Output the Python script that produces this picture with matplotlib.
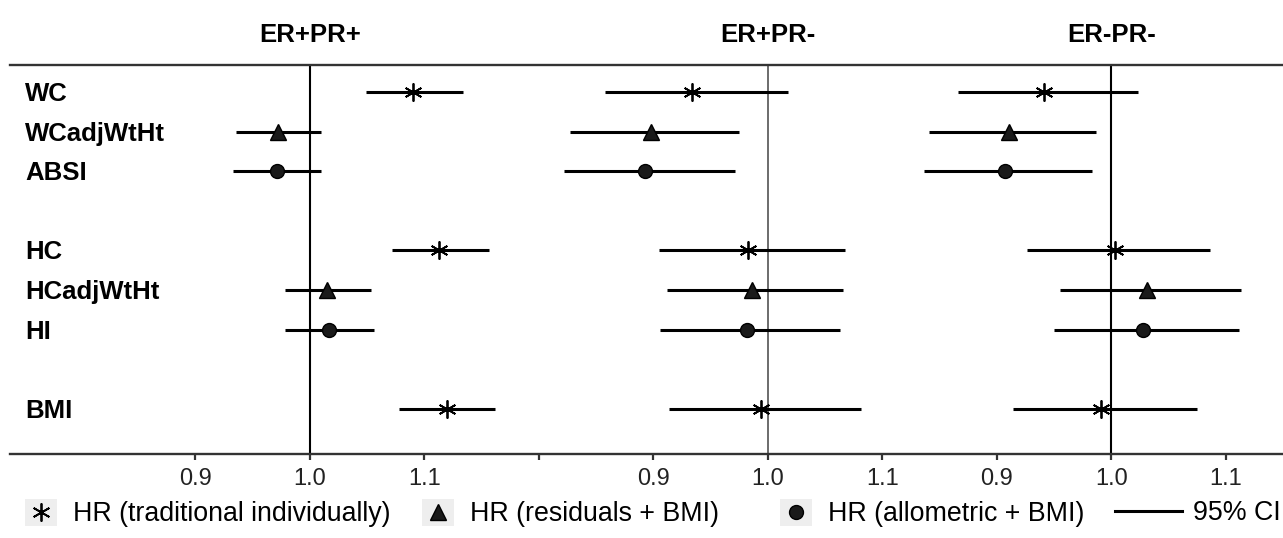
import matplotlib
matplotlib.use("Agg")
import matplotlib.pyplot as plt
import matplotlib.transforms as mtransforms
from matplotlib.lines import Line2D
from matplotlib.patches import Rectangle
from matplotlib.legend_handler import HandlerBase

plt.rcParams["font.family"] = ["Liberation Sans", "DejaVu Sans"]

# ---- data (hazard ratios) ----
subtypes = ["ER+PR+", "ER+PR-", "ER-PR-"]
measures = ["WC", "WCadjWtHt", "ABSI", "HC", "HCadjWtHt", "HI", "BMI"]
group_sizes = [3, 3, 1]
methods = ["traditional", "residuals", "allometric",
           "traditional", "residuals", "allometric", "traditional"]

hr_erpos_prpos = [1.090, 0.972, 0.971, 1.113, 1.015, 1.017, 1.120]
lo_erpos_prpos = [1.049, 0.935, 0.933, 1.072, 0.978, 0.978, 1.078]
hi_erpos_prpos = [1.134, 1.010, 1.010, 1.156, 1.053, 1.056, 1.162]

hr_erpos_prneg = [0.934, 0.898, 0.893, 0.983, 0.986, 0.982, 0.994]
lo_erpos_prneg = [0.858, 0.827, 0.822, 0.905, 0.912, 0.906, 0.914]
hi_erpos_prneg = [1.018, 0.975, 0.971, 1.067, 1.066, 1.063, 1.081]

hr_erneg_prneg = [0.941, 0.911, 0.907, 1.003, 1.031, 1.028, 0.991]
lo_erneg_prneg = [0.866, 0.841, 0.836, 0.926, 0.955, 0.950, 0.914]
hi_erneg_prneg = [1.023, 0.987, 0.983, 1.086, 1.113, 1.112, 1.075]

tick_values = [0.9, 1.0, 1.1]

legend_labels = {
    "traditional": "HR (traditional individually)",
    "residuals": "HR (residuals + BMI)",
    "allometric": "HR (allometric + BMI)",
}

panels = [
    (hr_erpos_prpos, lo_erpos_prpos, hi_erpos_prpos),
    (hr_erpos_prneg, lo_erpos_prneg, hi_erpos_prneg),
    (hr_erneg_prneg, lo_erneg_prneg, hi_erneg_prneg),
]

# ---- layout ----
W, H = 1283, 538
shifts = [0.0, 0.4, 0.7]          # where each panel sits on the shared axis
refline = [("black", 1.5), ("#444444", 1.1), ("black", 1.5)]

marker_style = {
    "traditional": dict(marker=(6, 2, 0), markersize=13, markeredgewidth=1.3),
    "residuals": dict(marker="^", markersize=12, markeredgewidth=1.0),
    "allometric": dict(marker="o", markersize=10, markeredgewidth=1.0),
}

# row positions: groups separated by one empty row
ypos = []
y = 0
for n in group_sizes:
    ypos.extend(range(y, y + n))
    y += n + 1

fig = plt.figure(figsize=(W / 100, H / 100), dpi=100)
ax = fig.add_axes([10 / W, 1 - 454 / H, 1273 / W, 389 / H])

for (hr, lo, hi), shift, (lc, lw) in zip(panels, shifts, refline):
    ax.axvline(1.0 + shift, color=lc, linewidth=lw, zorder=1)
    for i, m in enumerate(methods):
        ax.hlines(ypos[i], lo[i] + shift, hi[i] + shift,
                  color="black", linewidth=2.2, zorder=2)
        ax.plot(hr[i] + shift, ypos[i], linestyle="none",
                color="#1a1a1a", markeredgecolor="black",
                zorder=3, **marker_style[m])

ax.set_ylim(9.14, -0.68)
ax.set_xlim(0.738, 1.85)

ticks, labels = [], []
for k, shift in enumerate(shifts):
    for v in tick_values:
        ticks.append(v + shift)
        labels.append(f"{v:.1f}")
    if k == 0:
        ticks.append(1.2 + shift)
        labels.append("")
ax.set_xticks(ticks)
ax.set_xticklabels(labels)
ax.set_yticks([])
ax.tick_params(axis="x", direction="out", length=4, width=1.6,
               color="#333333", labelsize=17, labelcolor="#222222", pad=6)

for side in ["left", "right"]:
    ax.spines[side].set_visible(False)
for side in ["top", "bottom"]:
    ax.spines[side].set_linewidth(1.7)
    ax.spines[side].set_color("#333333")

row_tr = mtransforms.blended_transform_factory(ax.transAxes, ax.transData)
for name, yy in zip(measures, ypos):
    ax.text(0.012, yy + 0.05, name, transform=row_tr, fontsize=18.5,
            fontweight="bold", ha="left", va="center")

title_tr = mtransforms.blended_transform_factory(ax.transData, ax.transAxes)
for name, shift in zip(subtypes, shifts):
    ax.text(1.0 + shift, 1.078, name, transform=title_tr, fontsize=18.5,
            fontweight="bold", ha="center", va="center")


# ---- legend ----
class KeyHandler(HandlerBase):
    """Grey key square with the marker centred on it (ggplot-style key)."""

    def create_artists(self, legend, orig_handle, xdescent, ydescent,
                       width, height, fontsize, trans):
        bg = Rectangle((-xdescent, -ydescent), width, height,
                       facecolor="#eeeeee", edgecolor="none", transform=trans)
        mk = Line2D([width / 2 - xdescent], [height / 2 - ydescent],
                    linestyle="none", color=orig_handle.get_color(),
                    marker=orig_handle.get_marker(),
                    markersize=orig_handle.get_markersize(),
                    markeredgewidth=orig_handle.get_markeredgewidth(),
                    markeredgecolor=orig_handle.get_markeredgecolor(),
                    transform=trans)
        return [bg, mk]


leg_y = 1 - 513 / H
key_left = {"traditional": 25, "residuals": 422, "allometric": 780}
for m, x0 in key_left.items():
    mk = Line2D([], [], linestyle="none", color="#1a1a1a",
                markeredgecolor="black", **marker_style[m])
    fig.legend([mk], [legend_labels[m]], handler_map={Line2D: KeyHandler()},
               loc="center left", bbox_to_anchor=(x0 / W, leg_y),
               frameon=False, fontsize=19.3, handlelength=1.2,
               handleheight=1.2, handletextpad=0.6,
               borderpad=0, borderaxespad=0)

fig.legend([Line2D([], [], color="black", linewidth=2.2)], ["95% CI"],
           loc="center left", bbox_to_anchor=(1115 / W, leg_y),
           frameon=False, fontsize=19.3, handlelength=2.5, handletextpad=0.4,
           borderpad=0, borderaxespad=0)

fig.savefig("out.png", dpi=100)
plt.close(fig)
